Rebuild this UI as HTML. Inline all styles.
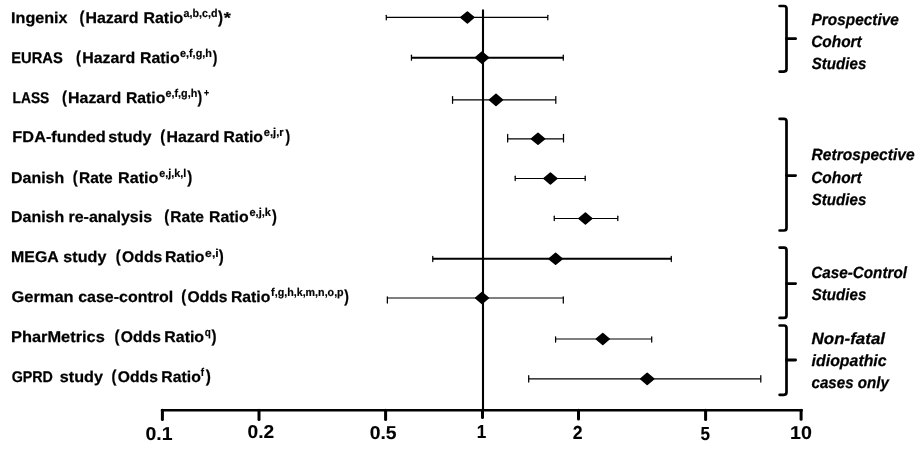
<!DOCTYPE html>
<html lang="en">
<head>
<meta charset="utf-8">
<title>Forest plot</title>
<style>
html,body{margin:0;padding:0;background:#fff;}
body{width:916px;height:459px;overflow:hidden;}
svg{display:block;}
text{font-family:"Liberation Sans",sans-serif;fill:#000;text-rendering:geometricPrecision;stroke:#000;stroke-width:0.25px;stroke-linejoin:round;}
.b{font-weight:bold;}
.g{font-weight:bold;font-style:italic;}
.s{stroke-width:0.2px;}
.n{stroke-width:0.1px;}
</style>
</head>
<body>
<svg width="916" height="459" viewBox="0 0 916 459">
<rect x="0" y="0" width="916" height="459" fill="#fff"/>

<g id="row1">
<text class="b" x="11.10" y="23.00" font-size="15.50" textLength="56.45" lengthAdjust="spacingAndGlyphs">Ingenix</text>
<text class="b" x="79.38" y="23.00" font-size="17.10" textLength="4.94" lengthAdjust="spacingAndGlyphs">(</text>
<text class="b" x="85.51" y="23.00" font-size="15.50" textLength="52.99" lengthAdjust="spacingAndGlyphs">Hazard</text>
<text class="b" x="143.51" y="23.00" font-size="15.50" textLength="39.80" lengthAdjust="spacingAndGlyphs">Ratio</text>
<text class="b s" x="183.60" y="17.10" font-size="11.30" textLength="33.89" lengthAdjust="spacingAndGlyphs">a,b,c,d</text>
<text class="b" x="217.88" y="23.00" font-size="17.10" textLength="5.00" lengthAdjust="spacingAndGlyphs">)</text>
<text class="b" x="223.74" y="22.52" font-size="15.68" textLength="7.12" lengthAdjust="spacingAndGlyphs">*</text>
</g>
<g id="row2">
<text class="b" x="11.19" y="62.50" font-size="15.50" textLength="51.58" lengthAdjust="spacingAndGlyphs">EURAS</text>
<text class="b" x="76.08" y="62.50" font-size="17.10" textLength="4.94" lengthAdjust="spacingAndGlyphs">(</text>
<text class="b" x="82.21" y="62.50" font-size="15.50" textLength="52.99" lengthAdjust="spacingAndGlyphs">Hazard</text>
<text class="b" x="140.01" y="62.50" font-size="15.50" textLength="39.70" lengthAdjust="spacingAndGlyphs">Ratio</text>
<text class="b s" x="179.99" y="56.60" font-size="11.30" textLength="31.88" lengthAdjust="spacingAndGlyphs">e,f,g,h</text>
<text class="b" x="212.69" y="62.50" font-size="17.10" textLength="4.63" lengthAdjust="spacingAndGlyphs">)</text>
</g>
<g id="row3">
<text class="b" x="12.56" y="102.70" font-size="15.50" textLength="36.72" lengthAdjust="spacingAndGlyphs">LASS</text>
<text class="b" x="61.98" y="102.70" font-size="17.10" textLength="4.94" lengthAdjust="spacingAndGlyphs">(</text>
<text class="b" x="68.11" y="102.70" font-size="15.50" textLength="52.99" lengthAdjust="spacingAndGlyphs">Hazard</text>
<text class="b" x="125.92" y="102.70" font-size="15.50" textLength="39.38" lengthAdjust="spacingAndGlyphs">Ratio</text>
<text class="b s" x="165.49" y="96.80" font-size="11.30" textLength="31.78" lengthAdjust="spacingAndGlyphs">e,f,g,h</text>
<text class="b" x="197.59" y="102.70" font-size="17.10" textLength="4.63" lengthAdjust="spacingAndGlyphs">)</text>
<text class="b" x="203.88" y="96.02" font-size="10.20" textLength="5.08" lengthAdjust="spacingAndGlyphs">+</text>
</g>
<g id="row4">
<text class="b" x="12.38" y="142.00" font-size="15.50" textLength="93.35" lengthAdjust="spacingAndGlyphs">FDA-funded</text>
<text class="b" x="108.28" y="142.00" font-size="15.50" textLength="43.21" lengthAdjust="spacingAndGlyphs">study</text>
<text class="b" x="160.28" y="142.00" font-size="17.10" textLength="4.94" lengthAdjust="spacingAndGlyphs">(</text>
<text class="b" x="166.41" y="142.00" font-size="15.50" textLength="52.99" lengthAdjust="spacingAndGlyphs">Hazard</text>
<text class="b" x="223.52" y="142.00" font-size="15.50" textLength="39.49" lengthAdjust="spacingAndGlyphs">Ratio</text>
<text class="b s" x="263.78" y="136.10" font-size="11.30" textLength="19.81" lengthAdjust="spacingAndGlyphs">e,j,r</text>
<text class="b" x="285.49" y="142.00" font-size="17.10" textLength="4.63" lengthAdjust="spacingAndGlyphs">)</text>
</g>
<g id="row5">
<text class="b" x="11.11" y="182.70" font-size="15.50" textLength="53.08" lengthAdjust="spacingAndGlyphs">Danish</text>
<text class="b" x="72.78" y="182.70" font-size="17.10" textLength="4.94" lengthAdjust="spacingAndGlyphs">(</text>
<text class="b" x="78.94" y="182.70" font-size="15.50" textLength="33.62" lengthAdjust="spacingAndGlyphs">Rate</text>
<text class="b" x="117.99" y="182.70" font-size="15.50" textLength="40.43" lengthAdjust="spacingAndGlyphs">Ratio</text>
<text class="b s" x="159.29" y="176.80" font-size="11.30" textLength="26.95" lengthAdjust="spacingAndGlyphs">e,j,k,l</text>
<text class="b" x="187.18" y="182.70" font-size="17.10" textLength="5.00" lengthAdjust="spacingAndGlyphs">)</text>
</g>
<g id="row6">
<text class="b" x="11.11" y="222.00" font-size="15.50" textLength="53.08" lengthAdjust="spacingAndGlyphs">Danish</text>
<text class="b" x="68.51" y="222.00" font-size="15.50" textLength="83.60" lengthAdjust="spacingAndGlyphs">re-analysis</text>
<text class="b" x="164.18" y="222.00" font-size="17.10" textLength="4.94" lengthAdjust="spacingAndGlyphs">(</text>
<text class="b" x="170.34" y="222.00" font-size="15.50" textLength="33.62" lengthAdjust="spacingAndGlyphs">Rate</text>
<text class="b" x="209.12" y="222.00" font-size="15.50" textLength="39.49" lengthAdjust="spacingAndGlyphs">Ratio</text>
<text class="b s" x="249.48" y="216.10" font-size="11.30" textLength="21.46" lengthAdjust="spacingAndGlyphs">e,j,k</text>
<text class="b" x="272.08" y="222.00" font-size="17.10" textLength="4.87" lengthAdjust="spacingAndGlyphs">)</text>
</g>
<g id="row7">
<text class="b" x="11.11" y="262.40" font-size="15.50" textLength="47.64" lengthAdjust="spacingAndGlyphs">MEGA</text>
<text class="b" x="63.38" y="262.40" font-size="15.50" textLength="43.01" lengthAdjust="spacingAndGlyphs">study</text>
<text class="b" x="115.78" y="262.40" font-size="17.10" textLength="4.94" lengthAdjust="spacingAndGlyphs">(</text>
<text class="b" x="122.10" y="262.40" font-size="15.50" textLength="40.10" lengthAdjust="spacingAndGlyphs">Odds</text>
<text class="b" x="164.92" y="262.40" font-size="15.50" textLength="39.59" lengthAdjust="spacingAndGlyphs">Ratio</text>
<text class="b s" x="205.14" y="256.50" font-size="11.30" textLength="13.51" lengthAdjust="spacingAndGlyphs">e,i</text>
<text class="b" x="218.78" y="262.40" font-size="17.10" textLength="5.00" lengthAdjust="spacingAndGlyphs">)</text>
</g>
<g id="row8">
<text class="b" x="11.57" y="302.00" font-size="15.50" textLength="62.08" lengthAdjust="spacingAndGlyphs">German</text>
<text class="b" x="78.19" y="302.00" font-size="15.50" textLength="94.91" lengthAdjust="spacingAndGlyphs">case-control</text>
<text class="b" x="181.18" y="302.00" font-size="17.10" textLength="4.94" lengthAdjust="spacingAndGlyphs">(</text>
<text class="b" x="187.50" y="302.00" font-size="15.50" textLength="40.10" lengthAdjust="spacingAndGlyphs">Odds</text>
<text class="b" x="230.92" y="302.00" font-size="15.50" textLength="39.38" lengthAdjust="spacingAndGlyphs">Ratio</text>
<text class="b s" x="271.11" y="296.10" font-size="11.30" textLength="72.56" lengthAdjust="spacingAndGlyphs">f,g,h,k,m,n,o,p</text>
<text class="b" x="344.29" y="302.00" font-size="17.10" textLength="4.63" lengthAdjust="spacingAndGlyphs">)</text>
</g>
<g id="row9">
<text class="b" x="11.08" y="342.00" font-size="15.50" textLength="93.73" lengthAdjust="spacingAndGlyphs">PharMetrics</text>
<text class="b" x="114.48" y="342.00" font-size="17.10" textLength="4.94" lengthAdjust="spacingAndGlyphs">(</text>
<text class="b" x="120.80" y="342.00" font-size="15.50" textLength="40.10" lengthAdjust="spacingAndGlyphs">Odds</text>
<text class="b" x="164.31" y="342.00" font-size="15.50" textLength="39.80" lengthAdjust="spacingAndGlyphs">Ratio</text>
<text class="b s" x="204.63" y="336.10" font-size="11.30" textLength="6.05" lengthAdjust="spacingAndGlyphs">q</text>
<text class="b" x="211.38" y="342.00" font-size="17.10" textLength="5.00" lengthAdjust="spacingAndGlyphs">)</text>
</g>
<g id="row10">
<text class="b" x="11.65" y="381.80" font-size="15.50" textLength="41.28" lengthAdjust="spacingAndGlyphs">GPRD</text>
<text class="b" x="59.78" y="381.80" font-size="15.50" textLength="43.11" lengthAdjust="spacingAndGlyphs">study</text>
<text class="b" x="111.48" y="381.80" font-size="17.10" textLength="4.94" lengthAdjust="spacingAndGlyphs">(</text>
<text class="b" x="117.80" y="381.80" font-size="15.50" textLength="40.10" lengthAdjust="spacingAndGlyphs">Odds</text>
<text class="b" x="161.32" y="381.80" font-size="15.50" textLength="39.49" lengthAdjust="spacingAndGlyphs">Ratio</text>
<text class="b s" x="200.63" y="375.90" font-size="11.30" textLength="3.28" lengthAdjust="spacingAndGlyphs">f</text>
<text class="b" x="205.87" y="381.80" font-size="17.10" textLength="5.12" lengthAdjust="spacingAndGlyphs">)</text>
</g>
<g id="axis" stroke="#000" fill="none">
<line x1="160.9" y1="410.2" x2="802.7" y2="410.2" stroke-width="2.6"/>
<line x1="162.4" y1="410.2" x2="162.4" y2="419.4" stroke-width="3" stroke-linecap="round"/>
<line x1="259.0" y1="410.2" x2="259.0" y2="419.4" stroke-width="3" stroke-linecap="round"/>
<line x1="385.6" y1="410.2" x2="385.6" y2="419.4" stroke-width="3" stroke-linecap="round"/>
<line x1="482.5" y1="410.2" x2="482.5" y2="417.6" stroke-width="3" stroke-linecap="round"/>
<line x1="578.5" y1="410.2" x2="578.5" y2="419.0" stroke-width="3" stroke-linecap="round"/>
<line x1="705.6" y1="410.2" x2="705.6" y2="419.4" stroke-width="3" stroke-linecap="round"/>
<line x1="801.1" y1="410.2" x2="801.1" y2="419.2" stroke-width="3" stroke-linecap="round"/>
<line x1="483" y1="9.5" x2="483" y2="410.2" stroke-width="2.1"/>
</g>
<g id="whiskers" stroke="#000" fill="none">
<line x1="386.3" y1="17.45" x2="547.8" y2="17.45" stroke-width="1.2"/>
<line x1="386.3" y1="15.30" x2="386.3" y2="19.80" stroke-width="1.25" stroke-linecap="round"/>
<line x1="547.8" y1="15.30" x2="547.8" y2="19.80" stroke-width="1.25" stroke-linecap="round"/>
<line x1="411.45" y1="57.7" x2="563.3" y2="57.7" stroke-width="1.9"/>
<line x1="411.45" y1="55.20" x2="411.45" y2="60.20" stroke-width="1.25" stroke-linecap="round"/>
<line x1="563.3" y1="55.20" x2="563.3" y2="60.20" stroke-width="1.25" stroke-linecap="round"/>
<line x1="452.55" y1="99.85" x2="555.8" y2="99.85" stroke-width="1.15"/>
<line x1="452.55" y1="96.50" x2="452.55" y2="103.30" stroke-width="1.25" stroke-linecap="round"/>
<line x1="555.8" y1="96.50" x2="555.8" y2="103.30" stroke-width="1.25" stroke-linecap="round"/>
<line x1="507.65" y1="138.8" x2="563.5" y2="138.8" stroke-width="1.15"/>
<line x1="507.65" y1="134.40" x2="507.65" y2="141.90" stroke-width="1.25" stroke-linecap="round"/>
<line x1="563.5" y1="134.40" x2="563.5" y2="141.90" stroke-width="1.25" stroke-linecap="round"/>
<line x1="515.2" y1="178.5" x2="585.2" y2="178.5" stroke-width="1.15"/>
<line x1="515.2" y1="176.20" x2="515.2" y2="180.60" stroke-width="1.25" stroke-linecap="round"/>
<line x1="585.2" y1="176.20" x2="585.2" y2="180.60" stroke-width="1.25" stroke-linecap="round"/>
<line x1="554.25" y1="218.5" x2="617.8" y2="218.5" stroke-width="1.15"/>
<line x1="554.25" y1="216.20" x2="554.25" y2="220.60" stroke-width="1.25" stroke-linecap="round"/>
<line x1="617.8" y1="216.20" x2="617.8" y2="220.60" stroke-width="1.25" stroke-linecap="round"/>
<line x1="432.75" y1="258.8" x2="671.3" y2="258.8" stroke-width="1.9"/>
<line x1="432.75" y1="256.40" x2="432.75" y2="261.50" stroke-width="1.25" stroke-linecap="round"/>
<line x1="671.3" y1="256.40" x2="671.3" y2="261.50" stroke-width="1.25" stroke-linecap="round"/>
<line x1="387.35" y1="298.0" x2="563.3" y2="298.0" stroke-width="1.15"/>
<line x1="387.35" y1="296.80" x2="387.35" y2="303.00" stroke-width="1.25" stroke-linecap="round"/>
<line x1="563.3" y1="296.80" x2="563.3" y2="303.00" stroke-width="1.25" stroke-linecap="round"/>
<line x1="555.6" y1="339.0" x2="651.7" y2="339.0" stroke-width="1.15"/>
<line x1="555.6" y1="336.80" x2="555.6" y2="342.10" stroke-width="1.25" stroke-linecap="round"/>
<line x1="651.7" y1="336.80" x2="651.7" y2="342.10" stroke-width="1.25" stroke-linecap="round"/>
<line x1="528.7" y1="378.9" x2="760.8" y2="378.9" stroke-width="1.15"/>
<line x1="528.7" y1="375.70" x2="528.7" y2="382.10" stroke-width="1.25" stroke-linecap="round"/>
<line x1="760.8" y1="375.70" x2="760.8" y2="382.10" stroke-width="1.25" stroke-linecap="round"/>
</g>
<g id="points" fill="#000" stroke="#000" stroke-width="1.6" stroke-linejoin="round">
<polygon points="460.9,17.4 467.4,12.0 473.8,17.4 467.4,22.9"/>
<polygon points="475.6,57.7 482.0,52.2 488.4,57.7 482.0,63.2"/>
<polygon points="489.6,99.8 496.0,94.4 502.4,99.8 496.0,105.3"/>
<polygon points="531.5,138.8 538.0,133.4 544.5,138.8 538.0,144.2"/>
<polygon points="543.9,178.5 550.4,173.1 556.9,178.5 550.4,183.9"/>
<polygon points="578.9,218.5 585.4,213.1 591.9,218.5 585.4,223.9"/>
<polygon points="549.1,258.8 555.6,253.4 562.1,258.8 555.6,264.2"/>
<polygon points="475.6,298.0 482.0,292.6 488.4,298.0 482.0,303.4"/>
<polygon points="596.3,339.0 602.8,333.6 609.2,339.0 602.8,344.4"/>
<polygon points="640.8,378.9 647.2,373.4 653.7,378.9 647.2,384.3"/>
</g>
<g id="ticklabels">
<text class="b n" x="145.55" y="440.01" font-size="18.73" textLength="27.01" lengthAdjust="spacingAndGlyphs">0.1</text>
<text class="b n" x="247.46" y="438.41" font-size="18.73" textLength="26.69" lengthAdjust="spacingAndGlyphs">0.2</text>
<text class="b n" x="369.65" y="438.91" font-size="18.73" textLength="26.91" lengthAdjust="spacingAndGlyphs">0.5</text>
<text class="b n" x="476.70" y="438.00" font-size="18.99" textLength="9.53" lengthAdjust="spacingAndGlyphs">1</text>
<text class="b n" x="572.80" y="438.50" font-size="18.86" textLength="9.82" lengthAdjust="spacingAndGlyphs">2</text>
<text class="b n" x="700.61" y="439.91" font-size="18.86" textLength="9.51" lengthAdjust="spacingAndGlyphs">5</text>
<text class="b n" x="790.05" y="438.71" font-size="18.73" textLength="21.86" lengthAdjust="spacingAndGlyphs">10</text>
</g>
<g id="brackets">
<path d="M779.6 6.0 H784.0 Q786.5 6.0 786.5 8.5 V69.1 Q786.5 71.6 784.0 71.6 H779.6" stroke="#000" stroke-width="2.7" stroke-linecap="round" fill="none"/><line x1="786.5" y1="38.699999999999996" x2="795.6" y2="38.699999999999996" stroke="#000" stroke-width="2.8" stroke-linecap="round"/>
<path d="M779.6 118.8 H784.0 Q786.5 118.8 786.5 121.3 V228.0 Q786.5 230.5 784.0 230.5 H779.6" stroke="#000" stroke-width="2.7" stroke-linecap="round" fill="none"/><line x1="786.5" y1="175.60000000000002" x2="795.6" y2="175.60000000000002" stroke="#000" stroke-width="2.8" stroke-linecap="round"/>
<path d="M779.6 247.6 H784.0 Q786.5 247.6 786.5 250.1 V315.4 Q786.5 317.9 784.0 317.9 H779.6" stroke="#000" stroke-width="2.7" stroke-linecap="round" fill="none"/><line x1="786.5" y1="283.6" x2="795.6" y2="283.6" stroke="#000" stroke-width="2.8" stroke-linecap="round"/>
<path d="M779.6 325.5 H784.0 Q786.5 325.5 786.5 328.0 V392.3 Q786.5 394.8 784.0 394.8 H779.6" stroke="#000" stroke-width="2.7" stroke-linecap="round" fill="none"/><line x1="786.5" y1="360.0" x2="795.6" y2="360.0" stroke="#000" stroke-width="2.8" stroke-linecap="round"/>
</g>
<g id="groups">
<text class="g" x="811.62" y="24.60" font-size="16.20" textLength="87.21" lengthAdjust="spacingAndGlyphs">Prospective</text>
<text class="g" x="811.15" y="46.60" font-size="16.20" textLength="50.61" lengthAdjust="spacingAndGlyphs">Cohort</text>
<text class="g" x="811.77" y="68.70" font-size="16.20" textLength="54.53" lengthAdjust="spacingAndGlyphs">Studies</text>
<text class="g" x="811.61" y="160.40" font-size="16.20" textLength="102.93" lengthAdjust="spacingAndGlyphs">Retrospective</text>
<text class="g" x="811.15" y="182.50" font-size="16.20" textLength="50.61" lengthAdjust="spacingAndGlyphs">Cohort</text>
<text class="g" x="811.77" y="204.90" font-size="16.20" textLength="54.53" lengthAdjust="spacingAndGlyphs">Studies</text>
<text class="g" x="811.16" y="277.90" font-size="16.20" textLength="95.84" lengthAdjust="spacingAndGlyphs">Case-Control</text>
<text class="g" x="811.77" y="299.70" font-size="16.20" textLength="54.53" lengthAdjust="spacingAndGlyphs">Studies</text>
<text class="g" x="811.59" y="343.60" font-size="16.20" textLength="73.50" lengthAdjust="spacingAndGlyphs">Non-fatal</text>
<text class="g" x="811.61" y="366.00" font-size="16.20" textLength="75.02" lengthAdjust="spacingAndGlyphs">idiopathic</text>
<text class="g" x="811.47" y="388.00" font-size="16.20" textLength="77.56" lengthAdjust="spacingAndGlyphs">cases only</text>
</g>
</svg>
</body>
</html>
